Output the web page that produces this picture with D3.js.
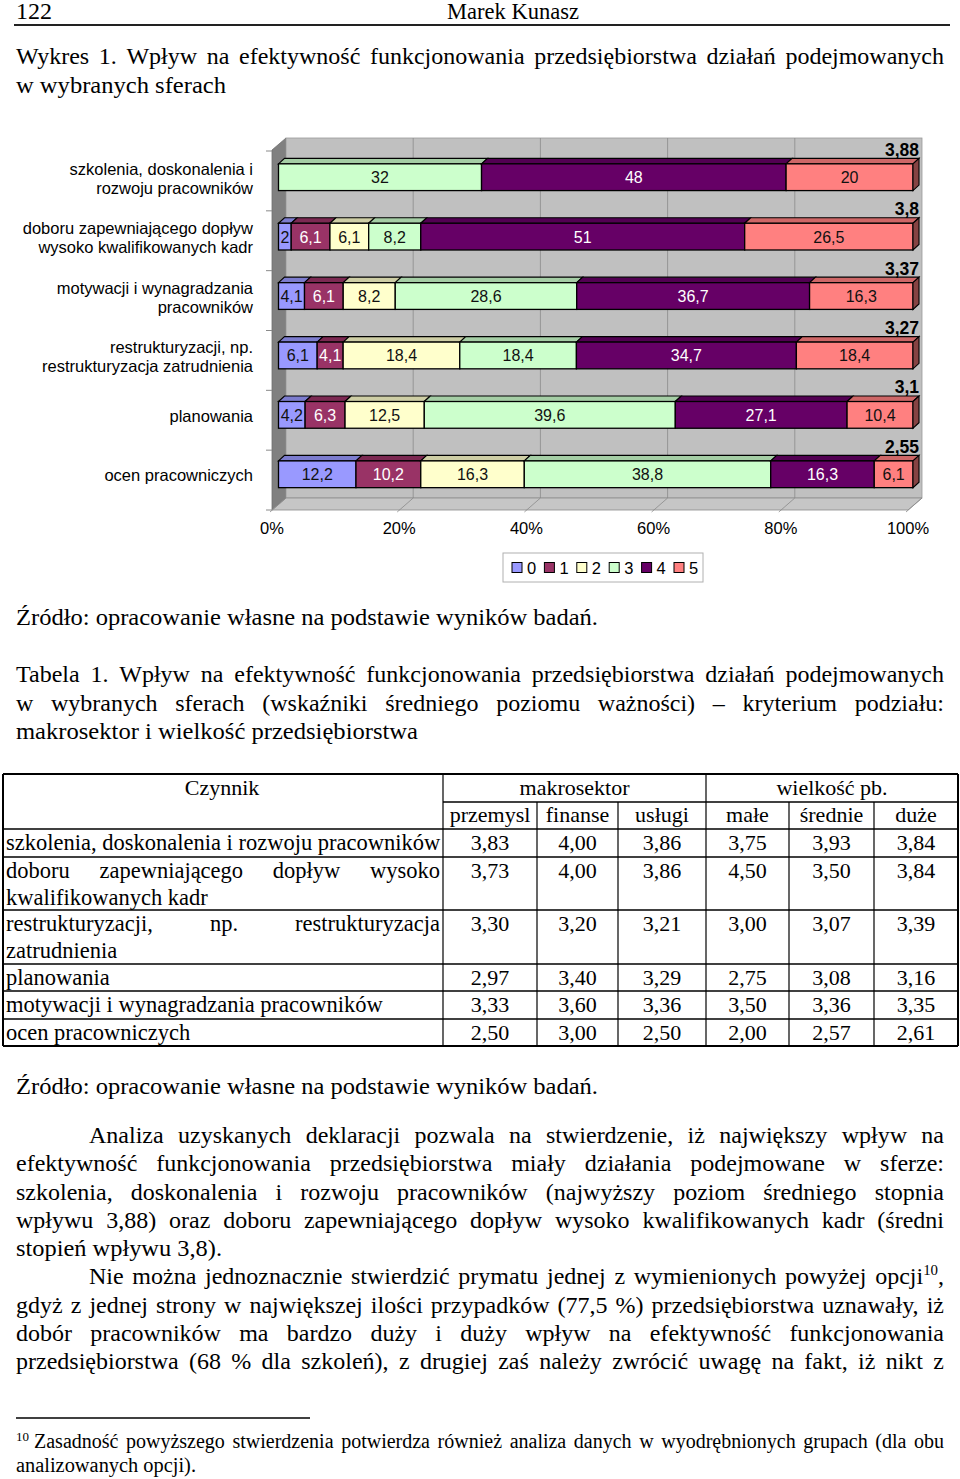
<!DOCTYPE html>
<html lang="pl">
<head>
<meta charset="UTF-8">
<title>Wykres 1. Wpływ na efektywność funkcjonowania przedsiębiorstwa</title>
<style>
  body { margin: 0; background: #fff; }
  svg { display: block; }
</style>
</head>
<body>
<svg id="page" width="960" height="1479"></svg>
<script src="https://d3js.org/d3.v7.min.js"></script>
<script>
// ---- chart data ----
const categories = [
  ["szkolenia, doskonalenia i", "rozwoju pracowników"],
  ["doboru zapewniającego dopływ", "wysoko kwalifikowanych kadr"],
  ["motywacji i wynagradzania", "pracowników"],
  ["restrukturyzacji, np.", "restrukturyzacja zatrudnienia"],
  ["planowania"],
  ["ocen pracowniczych"]
];
const seriesNames = ["0", "1", "2", "3", "4", "5"];
const seriesColors = ["#9999ff", "#993366", "#ffffcc", "#ccffcc", "#660066", "#ff8080"];
const shares = [
  [0, 0, 0, 32, 48, 20],
  [2, 6.1, 6.1, 8.2, 51, 26.5],
  [4.1, 6.1, 8.2, 28.6, 36.7, 16.3],
  [6.1, 4.1, 18.4, 18.4, 34.7, 18.4],
  [4.2, 6.3, 12.5, 39.6, 27.1, 10.4],
  [12.2, 10.2, 16.3, 38.8, 16.3, 6.1]
];
const means = [3.88, 3.8, 3.37, 3.27, 3.1, 2.55];
const xTicks = [0, 20, 40, 60, 80, 100];

// ---- table data ----
const tableGroups = ["makrosektor", "wielkość pb."];
const tableCols = ["przemysl", "finanse", "usługi", "małe", "średnie", "duże"];
const tableLabels = [
  ["szkolenia, doskonalenia i rozwoju pracowników"],
  ["doboru zapewniającego dopływ wysoko", "kwalifikowanych kadr"],
  ["restrukturyzacji, np. restrukturyzacja", "zatrudnienia"],
  ["planowania"],
  ["motywacji i wynagradzania pracowników"],
  ["ocen pracowniczych"]
];
const tableValues = [
  [3.83, 4.00, 3.86, 3.75, 3.93, 3.84],
  [3.73, 4.00, 3.86, 4.50, 3.50, 3.84],
  [3.30, 3.20, 3.21, 3.00, 3.07, 3.39],
  [2.97, 3.40, 3.29, 2.75, 3.08, 3.16],
  [3.33, 3.60, 3.36, 3.50, 3.36, 3.35],
  [2.50, 3.00, 2.50, 2.00, 2.57, 2.61]
];

const SERIF = "'Liberation Serif', 'Times New Roman', serif";
const SANS = "'Liberation Sans', Arial, sans-serif";
const comma = v => String(v).replace('.', ',');

const svg = d3.select('#page');
svg.append('rect').attr('width', 960).attr('height', 1479).attr('fill', '#fff');

// ---- text helpers ----
const probe = svg.append('text').attr('x', -999).attr('y', -999);
function measure(str, size, family) {
  probe.attr('font-size', size).attr('font-family', family).text(str);
  return probe.node().getComputedTextLength();
}

// word like "opcji{10}," -> superscript
function writeWord(t, word, size) {
  const m = word.match(/^(.*)\{(\d+)\}(.*)$/);
  if (!m) { t.text(word); return; }
  t.append('tspan').text(m[1]);
  t.append('tspan').attr('font-size', size * 0.62).attr('dy', -size * 0.38).text(m[2]);
  t.append('tspan').attr('dy', size * 0.38).text(m[3]);
}
function plainWidth(word, size, family) {
  const m = word.match(/^(.*)\{(\d+)\}(.*)$/);
  if (!m) return measure(word, size, family);
  return measure(m[1] + m[3], size, family) + measure(m[2], size * 0.62, family);
}

function justify(g, str, x0, x1, y, size, family) {
  const words = str.split(' ');
  const widths = words.map(w => plainWidth(w, size, family));
  const total = d3.sum(widths);
  const W = x1 - x0;
  let gap = words.length > 1 ? (W - total) / (words.length - 1) : 0;
  let s = 1;
  const minGap = size * 0.2;
  if (words.length > 1 && gap < minGap) { s = (W - minGap * (words.length - 1)) / total; gap = minGap; }
  let cx = x0;
  words.forEach((w, i) => {
    const t = g.append('text').attr('x', cx).attr('y', y)
      .attr('font-size', size).attr('font-family', family);
    writeWord(t, w, size);
    if (s !== 1) t.attr('textLength', widths[i] * s).attr('lengthAdjust', 'spacingAndGlyphs');
    cx += widths[i] * s + gap;
  });
}

function fit(g, str, x0, x1, y, size, family) {
  const t = g.append('text').attr('x', x0).attr('y', y)
    .attr('font-size', size).attr('font-family', family)
    .attr('textLength', x1 - x0).attr('lengthAdjust', 'spacingAndGlyphs');
  writeWord(t, str, size);
  return t;
}

// ---- page text ----
const txt = svg.append('g').attr('fill', '#000');
const FS = 24;
fit(txt, '122', 16, 52, 19, 23, SERIF);
fit(txt, 'Marek Kunasz', 447, 579, 19, 23, SERIF);
svg.append('line').attr('x1', 14).attr('x2', 950).attr('y1', 25).attr('y2', 25)
  .attr('stroke', '#222').attr('stroke-width', 1.8);

// [text, xStart, xEnd, baseline, justify?]
const lines = [
  ['Wykres 1. Wpływ na efektywność funkcjonowania przedsiębiorstwa działań podejmowanych', 16, 944, 64, true],
  ['w wybranych sferach', 16, 226, 93, false],
  ['Źródło: opracowanie własne na podstawie wyników badań.', 16, 598, 625, false],
  ['Tabela 1. Wpływ na efektywność funkcjonowania przedsiębiorstwa działań podejmowanych', 16, 944, 682, true],
  ['w wybranych sferach (wskaźniki średniego poziomu ważności) – kryterium podziału:', 16, 944, 711, true],
  ['makrosektor i wielkość przedsiębiorstwa', 16, 418, 739, false],
  ['Źródło: opracowanie własne na podstawie wyników badań.', 16, 598, 1094, false],
  ['Analiza uzyskanych deklaracji pozwala na stwierdzenie, iż największy wpływ na', 89, 944, 1143, true],
  ['efektywność funkcjonowania przedsiębiorstwa miały działania podejmowane w sferze:', 16, 944, 1171, true],
  ['szkolenia, doskonalenia i rozwoju pracowników (najwyższy poziom średniego stopnia', 16, 944, 1200, true],
  ['wpływu 3,88) oraz doboru zapewniającego dopływ wysoko kwalifikowanych kadr (średni', 16, 944, 1228, true],
  ['stopień wpływu 3,8).', 16, 222, 1256, false],
  ['Nie można jednoznacznie stwierdzić prymatu jednej z wymienionych powyżej opcji{10},', 89, 944, 1284, true],
  ['gdyż z jednej strony w największej ilości przypadków (77,5 %) przedsiębiorstwa uznawały, iż', 16, 944, 1313, true],
  ['dobór pracowników ma bardzo duży i duży wpływ na efektywność funkcjonowania', 16, 944, 1341, true],
  ['przedsiębiorstwa (68 % dla szkoleń), z drugiej zaś należy zwrócić uwagę na fakt, iż nikt z', 16, 944, 1369, true]
];
lines.forEach(([s, a, b, y, j]) => j ? justify(txt, s, a, b, y, FS, SERIF) : fit(txt, s, a, b, y, FS, SERIF));

// footnote
svg.append('line').attr('x1', 16).attr('x2', 310).attr('y1', 1418).attr('y2', 1418)
  .attr('stroke', '#000').attr('stroke-width', 1.3);
txt.append('text').attr('x', 16).attr('y', 1441).attr('font-size', 13).attr('font-family', SERIF).text('10');
justify(txt, 'Zasadność powyższego stwierdzenia potwierdza również analiza danych w wyodrębnionych grupach (dla obu', 34, 944, 1448, 20, SERIF);
fit(txt, 'analizowanych opcji).', 16, 196, 1472, 20, SERIF);

// ---- chart ----
const chart = svg.append('g');
const xFront = d3.scaleLinear().domain([0, 100]).range([272, 908]);
const D = { dx: 14, dy: -12 };
const floorY = 510, wallTop = 138;
const xBack = p => xFront(p) + D.dx;
const backBottom = floorY + D.dy;

// left side wall
chart.append('polygon')
  .attr('points', [[xFront(0), floorY], [xFront(0), wallTop - D.dy], [xBack(0), wallTop], [xBack(0), backBottom]].join(' '))
  .attr('fill', '#808080').attr('stroke', '#6e6e6e').attr('stroke-width', 0.8);
// back wall
chart.append('rect').attr('x', xBack(0)).attr('y', wallTop)
  .attr('width', xBack(100) - xBack(0)).attr('height', backBottom - wallTop)
  .attr('fill', '#c0c0c0').attr('stroke', '#9a9a9a').attr('stroke-width', 0.8);
// floor
chart.append('polygon')
  .attr('points', [[xFront(0), floorY], [xBack(0), backBottom], [xBack(100), backBottom], [xFront(100), floorY]].join(' '))
  .attr('fill', '#c6c6c6').attr('stroke', '#8a8a8a').attr('stroke-width', 0.8);
// grid on back wall and floor
chart.selectAll('.gridV').data(xTicks.slice(1, -1)).join('line')
  .attr('x1', d => xBack(d)).attr('x2', d => xBack(d))
  .attr('y1', wallTop).attr('y2', backBottom)
  .attr('stroke', '#8a8a8a').attr('stroke-width', 0.8);
chart.selectAll('.gridF').data(xTicks).join('line')
  .attr('x1', d => xBack(d)).attr('y1', backBottom)
  .attr('x2', d => xFront(d) - 2).attr('y2', floorY + 2)
  .attr('stroke', '#8a8a8a').attr('stroke-width', 0.8);

// category axis ticks (front plane)
const yFront = d3.scaleBand().domain(d3.range(categories.length)).range([151, floorY]);
chart.selectAll('.ctick').data(d3.range(categories.length + 1)).join('line')
  .attr('x1', xFront(0) - 6).attr('x2', xFront(0))
  .attr('y1', i => 151 + i * yFront.step()).attr('y2', i => 151 + i * yFront.step())
  .attr('stroke', '#8a8a8a').attr('stroke-width', 1);

// x axis labels
chart.selectAll('.xl').data(xTicks).join('text')
  .attr('x', d => xFront(d)).attr('y', 534)
  .attr('text-anchor', 'middle').attr('font-size', 16.5).attr('font-family', SANS)
  .text(d => d + '%');

// bars
const rows = shares.map((v, i) => Object.assign({ idx: i }, v));
const stack = d3.stack().keys(d3.range(seriesNames.length)).offset(d3.stackOffsetExpand);
const series = stack(rows);
const yBand = d3.scaleBand().domain(d3.range(categories.length)).range([147.5, 504])
  .paddingInner(0.55).paddingOuter(0.275);
const xBar = d3.scaleLinear().domain([0, 1]).range([278.5, 913]);
const B = { dx: 6, dy: -5.5 };
const bh = yBand.bandwidth();

categories.forEach((c, i) => {
  const g = chart.append('g');
  const y = yBand(i);
  const segs = series.map((s, k) => ({ k, v: shares[i][k], x0: xBar(s[i][0]), x1: xBar(s[i][1]) }))
    .filter(s => s.v > 0);
  segs.forEach(s => {
    const col = seriesColors[s.k];
    g.append('polygon')
      .attr('points', [[s.x0, y], [s.x0 + B.dx, y + B.dy], [s.x1 + B.dx, y + B.dy], [s.x1, y]].join(' '))
      .attr('fill', d3.color(col).darker(0.6)).attr('stroke', '#000').attr('stroke-width', 1.1);
    g.append('rect').attr('x', s.x0).attr('y', y).attr('width', s.x1 - s.x0).attr('height', bh)
      .attr('fill', col).attr('stroke', '#000').attr('stroke-width', 1.3);
  });
  const last = segs[segs.length - 1];
  g.append('polygon')
    .attr('points', [[last.x1, y], [last.x1 + B.dx, y + B.dy], [last.x1 + B.dx, y + bh + B.dy], [last.x1, y + bh]].join(' '))
    .attr('fill', d3.color(seriesColors[last.k]).darker(1.8)).attr('stroke', '#000').attr('stroke-width', 1.1);
  segs.forEach(s => {
    g.append('text').attr('x', (s.x0 + s.x1) / 2).attr('y', y + bh / 2 + 6)
      .attr('text-anchor', 'middle').attr('font-size', 16).attr('font-family', SANS)
      .attr('fill', (s.k === 1 || s.k === 4) ? '#fff' : '#111')
      .text(comma(s.v));
  });
  // mean label
  chart.append('text').attr('x', 919).attr('y', y + bh / 2 - 21.5)
    .attr('text-anchor', 'end').attr('font-size', 17.5).attr('font-weight', 'bold')
    .attr('font-family', SANS).text(comma(means[i]));
  // category label
  const cy = y + bh / 2 + 1;
  const n = c.length;
  c.forEach((ln, j) => {
    chart.append('text').attr('x', 253).attr('y', cy + (j - (n - 1) / 2) * 19 + 6)
      .attr('text-anchor', 'end').attr('font-size', 16.5).attr('font-family', SANS).text(ln);
  });
});

// legend
const lg = chart.append('g').attr('transform', 'translate(503,553)');
lg.append('rect').attr('width', 200).attr('height', 29).attr('fill', '#fff').attr('stroke', '#b0b0b0');
const lx = d3.scalePoint().domain(seriesNames).range([9, 171]);
seriesNames.forEach((s, k) => {
  lg.append('rect').attr('x', lx(s)).attr('y', 9.5).attr('width', 10).attr('height', 10)
    .attr('fill', seriesColors[k]).attr('stroke', '#000').attr('stroke-width', 1);
  lg.append('text').attr('x', lx(s) + 15).attr('y', 20.5).attr('font-size', 16.5)
    .attr('font-family', SANS).text(s);
});

// ---- table ----
const tb = svg.append('g');
const TS = 22.5;
const colX = [3, 443, 537, 618, 706, 789, 874, 958];
const rowY = [774, 802, 829, 857, 910, 964, 991, 1019, 1046];
const lineC = '#000';
// horizontal lines
rowY.forEach((y, r) => {
  const x1 = r === 1 ? colX[1] : colX[0];
  tb.append('line').attr('x1', x1).attr('x2', colX[7]).attr('y1', y).attr('y2', y)
    .attr('stroke', lineC).attr('stroke-width', (r === 0 || r === rowY.length - 1) ? 2 : 1.5);
});
// vertical lines
colX.forEach((x, c) => {
  const y1 = (c === 0 || c === 1 || c === 4 || c === 7) ? rowY[0] : rowY[1];
  tb.append('line').attr('x1', x).attr('x2', x).attr('y1', y1).attr('y2', rowY[rowY.length - 1])
    .attr('stroke', lineC).attr('stroke-width', (c === 0 || c === 7) ? 2 : 1.2);
});
const colMid = c => (colX[c] + colX[c + 1]) / 2;
tb.append('text').attr('x', 222).attr('y', 795).attr('text-anchor', 'middle')
  .attr('font-size', 22).attr('font-family', SERIF).text('Czynnik');
tb.append('text').attr('x', (colX[1] + colX[4]) / 2).attr('y', 795).attr('text-anchor', 'middle')
  .attr('font-size', 22).attr('font-family', SERIF).text(tableGroups[0]);
tb.append('text').attr('x', (colX[4] + colX[7]) / 2).attr('y', 795).attr('text-anchor', 'middle')
  .attr('font-size', 22).attr('font-family', SERIF).text(tableGroups[1]);
tableCols.forEach((s, c) => {
  tb.append('text').attr('x', colMid(c + 1)).attr('y', 822).attr('text-anchor', 'middle')
    .attr('font-size', 22).attr('font-family', SERIF).text(s);
});
const fmt = d3.format('.2f');
tableLabels.forEach((lab, r) => {
  const top = rowY[r + 2];
  lab.forEach((ln, j) => {
    const y = top + 21 + j * 26.5;
    if (j < lab.length - 1) justify(tb, ln, 6, 440, y, TS, SERIF);
    else tb.append('text').attr('x', 6).attr('y', y).attr('font-size', TS).attr('font-family', SERIF).text(ln);
  });
  tableValues[r].forEach((v, c) => {
    tb.append('text').attr('x', colMid(c + 1)).attr('y', top + 21).attr('text-anchor', 'middle')
      .attr('font-size', 22).attr('font-family', SERIF).text(fmt(v).replace('.', ','));
  });
});
probe.remove();
</script>
</body>
</html>
